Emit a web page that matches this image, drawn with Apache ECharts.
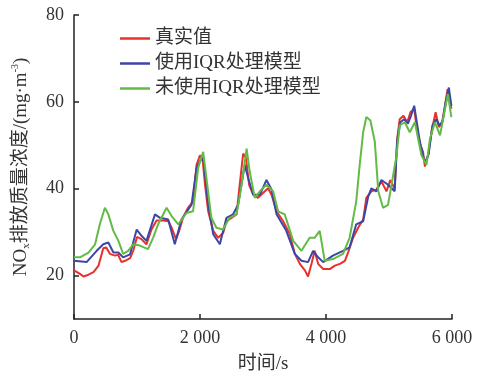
<!DOCTYPE html>
<html>
<head>
<meta charset="utf-8">
<script src="https://cdn.jsdelivr.net/npm/echarts@6/dist/echarts.min.js"></script>
<style>html,body{margin:0;padding:0;background:#fff}#c{width:481px;height:381px}</style>
</head>
<body>
<div id="c"></div>
<script>
var seriesNames = ['真实值', '使用IQR处理模型', '未使用IQR处理模型'];
var xTicks = [0, 2000, 4000, 6000];
var yTicks = [20, 40, 60, 80];

var trueValue = [[0,21.2],[95,20.4],[150,19.8],[230,20.2],[310,20.8],[390,22.3],[465,26.3],[510,26.5],[570,25],[650,24.6],[700,24.8],[755,23.1],[810,23.4],[890,24],[940,25.7],[1000,28.9],[1070,28.4],[1150,27.2],[1230,30.6],[1310,32.7],[1420,32.7],[1500,32.5],[1550,31],[1620,28.4],[1670,30.3],[1730,33.3],[1810,35.6],[1890,37.1],[1945,45.5],[2000,47.7],[2040,47],[2080,40.9],[2130,34.8],[2210,30.3],[2290,28.7],[2370,29.9],[2420,32.5],[2500,33.3],[2580,34.1],[2630,40.9],[2685,48.1],[2730,47],[2780,40.9],[2845,38.6],[2920,37.9],[3000,39],[3080,40.1],[3135,38.6],[3215,34.8],[3320,32.5],[3425,29.5],[3505,25],[3585,22.7],[3665,21.2],[3715,19.8],[3770,22.7],[3820,25.7],[3875,22.7],[3955,21.5],[4060,21.5],[4140,22.3],[4220,22.7],[4300,23.4],[4350,25.3],[4430,28.7],[4510,31],[4590,32.9],[4640,37.9],[4720,39.4],[4800,39.8],[4880,41.7],[4960,39.4],[5020,42],[5090,40],[5130,51.5],[5170,56],[5230,56.8],[5290,55.3],[5340,57.6],[5400,58.4],[5450,53],[5500,50],[5540,48.5],[5570,45.1],[5620,47.7],[5680,53.5],[5740,57.6],[5790,54.2],[5840,55],[5880,58.4],[5930,62.9],[5960,63.3],[5990,58.4]];

var iqrModel = [[0,23.4],[200,23.1],[360,25.7],[465,27.2],[545,27.6],[625,25.3],[705,25.3],[780,24.2],[890,24.9],[995,30.6],[1075,29.1],[1150,28],[1285,34.1],[1365,33.3],[1495,32.9],[1600,27.2],[1705,32.9],[1865,36.3],[1945,44.7],[2025,47],[2060,46.2],[2130,36.3],[2210,29.5],[2315,27.2],[2420,33.3],[2525,34.1],[2605,36.3],[2710,45.5],[2765,42.4],[2845,38.6],[2950,38.6],[3055,42],[3135,39.8],[3215,34.1],[3370,30.3],[3505,25],[3610,23.4],[3715,23.1],[3795,25.7],[3875,24.2],[3955,23.1],[4110,24.6],[4270,25.7],[4375,26.5],[4480,31.8],[4590,32.5],[4670,38.2],[4720,40.1],[4800,39.4],[4880,42],[4985,40.9],[5090,39.4],[5130,51],[5180,55.3],[5240,56],[5300,55],[5350,56.8],[5400,59.1],[5450,54.5],[5490,50.8],[5550,47],[5580,46.2],[5630,48],[5690,54.6],[5750,56],[5800,54.6],[5850,55.5],[5900,60],[5950,63.3],[5990,59.1]];

var noIqrModel = [[0,24.2],[95,24.2],[230,25.3],[335,27.2],[410,31.8],[490,35.6],[545,34.1],[625,30.3],[705,28],[780,25],[860,25.7],[940,27.2],[1045,26.9],[1175,26.1],[1255,28.7],[1335,31.8],[1470,35.6],[1550,33.7],[1655,31.8],[1785,34.4],[1890,34.8],[1970,44.7],[2050,48.5],[2090,43.9],[2180,33.3],[2260,31],[2365,30.6],[2470,33.3],[2580,34.1],[2660,40.9],[2740,49.2],[2790,43.9],[2870,37.9],[2950,39.4],[3055,40.9],[3160,39.4],[3240,34.8],[3345,34.1],[3480,28],[3610,25.7],[3740,28.7],[3820,28.7],[3900,30.3],[3980,23.4],[4110,23.8],[4270,25],[4375,28.7],[4480,37.1],[4535,45.5],[4590,53],[4640,56.5],[4705,55.7],[4775,50.8],[4830,39.4],[4905,35.6],[4985,36.3],[5040,40.9],[5120,47.7],[5170,54.6],[5250,55.3],[5330,53],[5410,55.3],[5515,47.7],[5595,45.5],[5650,51.5],[5730,55.3],[5810,52.3],[5935,61.8],[5990,56.5]];

var serif = '"Liberation Serif", "Noto Sans CJK SC", serif';
var textColor = '#333';
var chart = echarts.init(document.getElementById('c'));
function mk(name, data, color) {
  return { name: name, type: 'line', data: data, symbol: 'none', smooth: false,
    lineStyle: { color: color, width: 2 }, itemStyle: { color: color } };
}
chart.setOption({
  animation: false,
  backgroundColor: '#fff',
  grid: { left: 74, right: 29, top: 15, bottom: 62 },
  legend: {
    orient: 'vertical', left: 115, top: 24, icon: 'rect', itemWidth: 30, itemHeight: 2.5, itemGap: 6,
    textStyle: { fontFamily: serif, fontSize: 19, color: textColor, lineHeight: 19 },
    data: seriesNames
  },
  xAxis: {
    type: 'value', min: 0, max: 6000, interval: 2000,
    name: '时间/s', nameLocation: 'middle', nameGap: 36,
    nameTextStyle: { fontFamily: serif, fontSize: 19, color: textColor },
    axisLine: { lineStyle: { color: '#222', width: 1.5 } },
    axisTick: { inside: true, length: 5, lineStyle: { color: '#222', width: 1.5 } },
    axisLabel: { fontFamily: serif, fontSize: 18, color: textColor, margin: 10,
      formatter: function (v) { return v >= 1000 ? Math.floor(v / 1000) + ' ' + String(v % 1000).padStart(3, '0') : String(v); } },
    splitLine: { show: false }
  },
  yAxis: {
    type: 'value', min: 10, max: 80,
    name: '{a|NO}{b|x}{a|排放质量浓度/(mg·m}{c|-3}{a|)}',
    nameLocation: 'middle', nameGap: 42, nameRotate: 90,
    nameTextStyle: { fontFamily: serif, fontSize: 19, color: textColor,
      rich: {
        a: { fontFamily: serif, fontSize: 19, color: textColor, lineHeight: 22 },
        b: { fontFamily: serif, fontSize: 11, color: textColor, lineHeight: 22, verticalAlign: 'bottom', padding: [8, 0, 0, 0] },
        c: { fontFamily: serif, fontSize: 10, color: textColor, lineHeight: 22, verticalAlign: 'top', padding: [0, 0, 10, 0] }
      } },
    axisLine: { show: true, lineStyle: { color: '#222', width: 1.5 } },
    axisTick: { show: true, inside: true, length: 5, customValues: yTicks, lineStyle: { color: '#222', width: 1.5 } },
    axisLabel: { fontFamily: serif, fontSize: 18, color: textColor, margin: 10, customValues: yTicks },
    splitLine: { show: false }
  },
  series: [
    mk(seriesNames[0], trueValue, '#e8302c'),
    mk(seriesNames[1], iqrModel, '#3d46a6'),
    mk(seriesNames[2], noIqrModel, '#62bb45')
  ]
});
</script>
</body>
</html>
